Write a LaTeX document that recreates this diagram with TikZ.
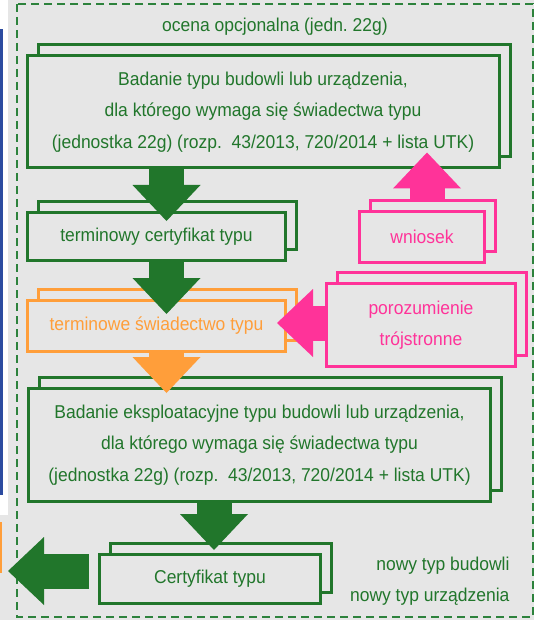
\documentclass[tikz,border=0pt]{standalone}
\usepackage{fontspec}
\setmainfont{Liberation Sans}[FakeStretch=0.94]
\usetikzlibrary{arrows.meta,shadows,calc}
\definecolor{dgreen}{RGB}{33,118,43}
\definecolor{fgreen}{RGB}{45,130,60}
\definecolor{dorange}{RGB}{255,158,58}
\definecolor{dpink}{RGB}{255,51,153}
\definecolor{bg}{RGB}{230,230,230}
\definecolor{sblue}{RGB}{44,75,160}
\begin{document}
\begin{tikzpicture}[x=1pt, y=-1pt, font=\frenchspacing\fontsize{18.6}{31.5}\selectfont]

\tikzstyle{box} = [rectangle, fill=bg, line width=3pt, inner sep=0, align=center]
\tikzstyle{gbox} = [box, draw=dgreen, text=dgreen, copy shadow={shadow xshift=11pt, shadow yshift=11pt, draw=dgreen, fill=bg, line width=3pt}]
\tikzstyle{obox} = [box, draw=dorange, text=dorange, copy shadow={shadow xshift=11pt, shadow yshift=11pt, draw=dorange, fill=bg, line width=3pt}]
\tikzstyle{pbox} = [box, draw=dpink, text=dpink, copy shadow={shadow xshift=11pt, shadow yshift=11pt, draw=dpink, fill=bg, line width=3pt}]
\tikzstyle{fat} = [line width=35pt, -{Triangle[length=36pt, width=68pt, line width=0pt]}]
\tikzstyle{frame} = [draw=fgreen, line width=2pt, dash pattern=on 8pt off 5pt]

\useasboundingbox (0,0) rectangle (534,620);
\fill [bg] (0,0) rectangle (534,620);
\fill [white] (0,0) rectangle (8,515);
\fill [sblue] (0,29) rectangle (3,495);
\fill [dorange] (0,522) rectangle (2,573);

\draw [frame] (17,4) rectangle (533,617);

\node [text=dgreen] (title) at (275,27) {ocena opcjonalna (jedn. 22g)};

\node [gbox, minimum width=472pt, minimum height=112pt] (study) at (263,112) {Badanie typu budowli lub urządzenia,\\ dla którego wymaga się świadectwa typu\\ (jednostka 22g) (rozp.~~43/2013, 720/2014 + lista UTK)};

\node [gbox, minimum width=258pt, minimum height=48pt] (tcert) at (156.5,236.5) {terminowy certyfikat typu};

\node [obox, minimum width=258pt, minimum height=51pt] (tswiad) at (156.5,326) {terminowe świadectwo typu};

\node [gbox, minimum width=462pt, minimum height=113pt] (exploit) at (259.5,445) {Badanie eksploatacyjne typu budowli lub urządzenia,\\ dla którego wymaga się świadectwa typu\\ (jednostka 22g) (rozp.~~43/2013, 720/2014 + lista UTK)};

\node [gbox, minimum width=221pt, minimum height=49pt] (cert) at (210,579) {Certyfikat typu};

\node [pbox, minimum width=125pt, minimum height=51pt] (wniosek) at (422,237) {wniosek};
\node [pbox, minimum width=189pt, minimum height=83pt] (poroz) at (421,325) {porozumienie\\ trójstronne};

\node [text=dgreen, anchor=east, align=right] (types) at (513,581) {nowy typ budowli\\ nowy typ urządzenia};
\coordinate (out) at (8,571);

\draw [fat, dgreen] ($(study.south -| tcert.north)+(10,0)$) -- ($(tcert.north)+(10,10)$);
\draw [fat, dgreen] ($(tcert.south)+(10,0)$) -- ($(tswiad.north)+(10,15)$);
\draw [fat, dorange] ($(tswiad.south)+(10,0)$) -- ($(exploit.north -| tswiad.south)+(10,6)$);
\draw [fat, dgreen] ($(exploit.south -| cert.north)+(4,0)$) -- ($(cert.north)+(4,-3)$);
\draw [fat, dgreen] ($(cert.west)+(-9,-8)$) -- (out);

\draw [fat, dpink] ($(wniosek.north)+(5,-10)$) -- ($(study.south -| wniosek.north)+(5,-17)$);
\draw [fat, dpink] ($(poroz.west)+(0,-2)$) -- ($(tswiad.east |- poroz.west)+(-10,-2)$);
\end{tikzpicture}
\end{document}
